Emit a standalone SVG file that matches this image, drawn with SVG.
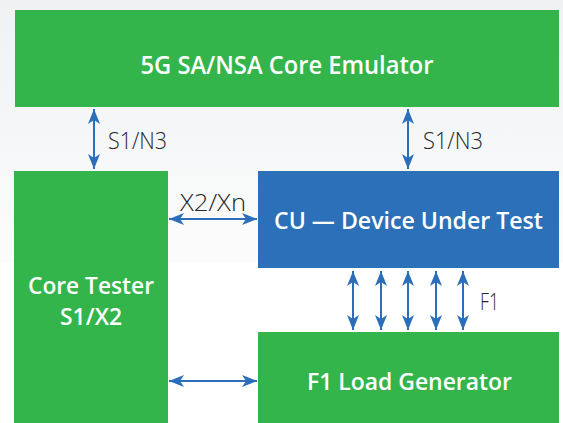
<svg xmlns="http://www.w3.org/2000/svg" width="563" height="423" viewBox="0 0 563 423">
  <defs>
    <linearGradient id="bg" x1="0" y1="0" x2="0" y2="1">
      <stop offset="0" stop-color="#eff1f3"/>
      <stop offset="1" stop-color="#fcfcfc"/>
    </linearGradient>
    <marker id="ah" viewBox="0 0 15 12" refX="15" refY="6" markerWidth="15" markerHeight="12" markerUnits="userSpaceOnUse" orient="auto-start-reverse">
      <path d="M0,0 L15,6 L0,12 L4,6 z" fill="#2b6fbb"/>
    </marker>
  </defs>
  <style>
    .green { fill: #33b54c; }
    .blue { fill: #2b70b8; }
    .box-label { font-family: "Open Sans", "Liberation Sans", sans-serif; font-weight: 600; fill: #ffffff; text-anchor: middle; }
    .link-label { font-family: "Open Sans", "Liberation Sans", sans-serif; font-weight: 300; fill: #262626; font-size: 23px; }
    .conn line { stroke: #2b6fbb; stroke-width: 2; marker-start: url(#ah); marker-end: url(#ah); }
  </style>
  <rect x="0" y="0" width="563" height="423" fill="#ffffff"/>
  <rect x="0" y="0" width="563" height="262" fill="url(#bg)"/>

  <g id="core-emulator">
    <rect class="green" x="15" y="10" width="544" height="97"/>
    <text class="box-label" x="287" y="74" font-size="26" textLength="293" lengthAdjust="spacingAndGlyphs">5G SA/NSA Core Emulator</text>
  </g>
  <g id="core-tester">
    <rect class="green" x="14" y="171" width="154" height="252"/>
    <text class="box-label" x="91" y="294" font-size="24" textLength="126" lengthAdjust="spacingAndGlyphs">Core Tester</text>
    <text class="box-label" x="91" y="325" font-size="24" textLength="62" lengthAdjust="spacingAndGlyphs">S1/X2</text>
  </g>
  <g id="cu-dut">
    <rect class="blue" x="258" y="171" width="301" height="97"/>
    <text class="box-label" x="408.5" y="229" font-size="23" textLength="269" lengthAdjust="spacingAndGlyphs">CU — Device Under Test</text>
  </g>
  <g id="f1-load-generator">
    <rect class="green" x="258" y="332" width="301" height="91"/>
    <text class="box-label" x="409.5" y="390" font-size="23" textLength="205" lengthAdjust="spacingAndGlyphs">F1 Load Generator</text>
  </g>

  <g id="connectors" class="conn">
    <line x1="94" y1="109" x2="94" y2="169"/>
    <line x1="408" y1="109" x2="408" y2="169"/>
    <line x1="169" y1="219" x2="257" y2="219"/>
    <line x1="169" y1="381" x2="257" y2="381"/>
    <line x1="353" y1="271" x2="353" y2="330"/>
    <line x1="381" y1="271" x2="381" y2="330"/>
    <line x1="408" y1="271" x2="408" y2="330"/>
    <line x1="436" y1="271" x2="436" y2="330"/>
    <line x1="463" y1="271" x2="463" y2="330"/>
  </g>
  <g id="connector-labels">
    <text class="link-label" x="108" y="149" textLength="59" lengthAdjust="spacingAndGlyphs">S1/N3</text>
    <text class="link-label" x="423" y="149" textLength="60" lengthAdjust="spacingAndGlyphs">S1/N3</text>
    <text class="link-label" x="180" y="211" textLength="66" lengthAdjust="spacingAndGlyphs">X2/Xn</text>
    <text class="link-label" x="480" y="310" textLength="19" lengthAdjust="spacingAndGlyphs">F1</text>
  </g>
</svg>
